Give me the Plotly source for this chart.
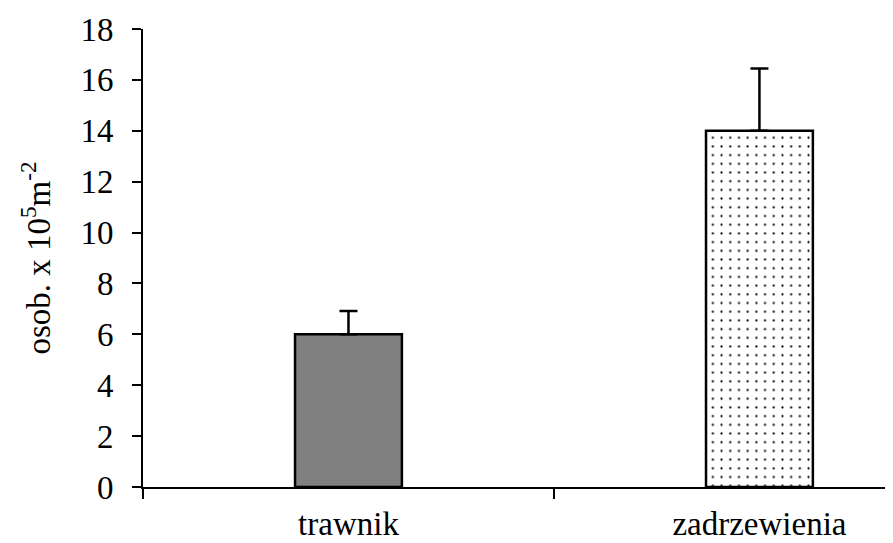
import plotly.graph_objects as go

categories = ["trawnik", "zadrzewienia"]
values = [6.0, 14.0]
err_plus = [0.92, 2.45]
err_minus = [0.0, 0.0]
y_ticks = [0, 2, 4, 6, 8, 10, 12, 14, 16, 18]

FONT = "Liberation Serif"
FS = 33

fig = go.Figure()
fig.add_trace(go.Bar(
    x=[categories[0]],
    y=[values[0]],
    width=0.26,
    marker=dict(color="#808080", line=dict(color="black", width=2.5)),
    error_y=dict(type="data", symmetric=False, array=[err_plus[0]],
                 arrayminus=[err_minus[0]], color="black", thickness=2.5, width=9),
    showlegend=False,
))
fig.add_trace(go.Bar(
    x=[categories[1]],
    y=[values[1]],
    width=0.26,
    marker=dict(
        color="#ffffff",
        line=dict(color="black", width=2.5),
        pattern=dict(shape=".", fgcolor="black", bgcolor="#ffffff",
                     fgopacity=1, size=8.7, solidity=0.05, fillmode="replace"),
    ),
    error_y=dict(type="data", symmetric=False, array=[err_plus[1]],
                 arrayminus=[err_minus[1]], color="black", thickness=2.5, width=9),
    showlegend=False,
))

fig.update_layout(
    width=885,
    height=535,
    margin=dict(l=135, r=0, t=21, b=56),
    paper_bgcolor="white",
    plot_bgcolor="white",
    font=dict(family=FONT, size=FS, color="black"),
    barmode="overlay",
)

fig.update_xaxes(
    type="category",
    categoryorder="array",
    categoryarray=categories,
    range=[-0.5, 1.325],
    showline=True,
    linecolor="black",
    linewidth=2,
    ticks="outside",
    tickson="boundaries",
    ticklen=10,
    tickwidth=2,
    tickcolor="black",
    showgrid=False,
    zeroline=False,
    automargin=False,
    ticklabelstandoff=6,
    tickfont=dict(family=FONT, size=FS, color="black"),
)

fig.update_yaxes(
    range=[0, 18],
    tickvals=y_ticks,
    ticktext=[str(v) for v in y_ticks],
    showline=True,
    linecolor="black",
    linewidth=2,
    ticks="outside",
    ticklen=9,
    tickwidth=2,
    tickcolor="black",
    showgrid=False,
    zeroline=False,
    automargin=False,
    ticklabelstandoff=12,
    tickfont=dict(family=FONT, size=FS, color="black"),
    title=dict(
        text="osob. x 10<sup>5</sup>m<sup>-2</sup>",
        font=dict(family=FONT, size=FS, color="black"),
        standoff=20,
    ),
)

fig.write_html("out.html")
